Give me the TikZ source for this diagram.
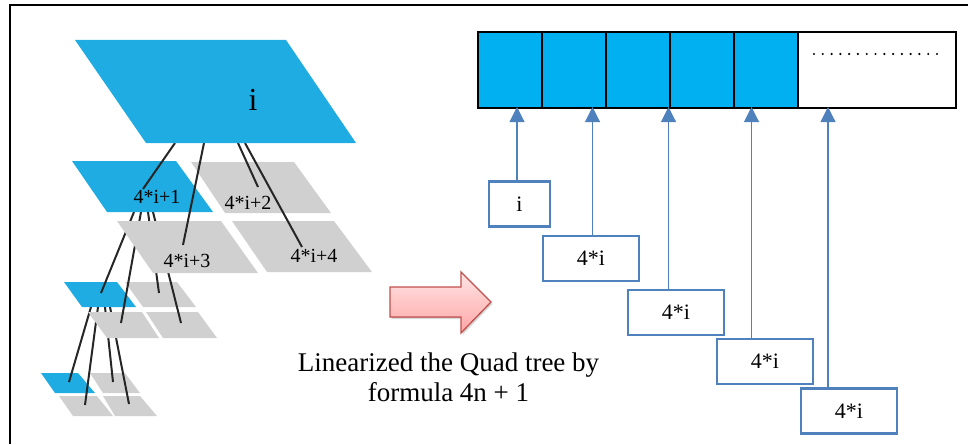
\documentclass[tikz,border=0pt]{standalone}
\usepackage{fontspec}
\setmainfont{Liberation Serif}
\usepackage{tikz}
\usetikzlibrary{arrows.meta, calc, shadows}
\usepackage{xcolor}

\definecolor{quadblue}{RGB}{30,172,226}
\definecolor{quadgray}{RGB}{208,208,208}
\definecolor{cellblue}{RGB}{0,176,240}
\definecolor{boxblue}{RGB}{79,129,189}
\definecolor{arrred}{RGB}{192,80,77}

\tikzset{
  tline/.style={line width=2pt, black!85},
  cell/.style={draw, line width=2pt, fill=cellblue, anchor=north west,
    minimum width=64pt, minimum height=76pt, inner sep=0pt},
  idxbox/.style={draw=boxblue, line width=2.4pt, fill=white, inner sep=0pt,
    minimum height=45pt, font=\fontsize{22}{26}\selectfont},
  uparr/.style={boxblue, line width=1.1pt, -{Triangle[width=15pt,length=15pt]}},
  qlabel/.style={font=\fontsize{20}{24}\selectfont},
}

\begin{document}
\begin{tikzpicture}[x=1pt, y=-1pt]
  \useasboundingbox (0,0) rectangle (968,444);
  % frame
  \draw[line width=2pt] (10,444) -- (10,5.5) -- (968,5.5);

  % quad tree, deepest level first
  \fill[quadblue] (41,373) -- (78,373) -- (95,393) -- (55,393) -- cycle;
  \fill[quadgray] (90,373) -- (125,373) -- (140,393) -- (103,393) -- cycle;
  \fill[quadgray] (59,396) -- (97,396) -- (113,416) -- (73,416) -- cycle;
  \fill[quadgray] (103,396) -- (140,396) -- (157,416) -- (115,416) -- cycle;
  \draw[tline] (91,307) -- (69,382);
  \draw[tline] (98,307) -- (85,405);
  \draw[tline] (105,307) -- (113,382);
  \draw[tline] (110,307) -- (129,404);

  \fill[quadblue] (64,282) -- (117,282) -- (136,307) -- (82,307) -- cycle;
  \fill[quadgray] (125,282) -- (177,282) -- (196,307) -- (143,307) -- cycle;
  \fill[quadgray] (88,312) -- (142,312) -- (159,338) -- (107,338) -- cycle;
  \fill[quadgray] (146,312) -- (198,312) -- (217,338) -- (163,338) -- cycle;
  \draw[tline] (134,212) -- (101,293);
  \draw[tline] (141,212) -- (121,323);
  \draw[tline] (148,212) -- (159,293);
  \draw[tline] (153,212) -- (181,323);

  \fill[quadblue] (72,161) -- (176,161) -- (213,212) -- (107,212) -- cycle;
  \fill[quadgray] (191,162) -- (294,162) -- (331,213) -- (225,213) -- cycle;
  \fill[quadgray] (117,221) -- (221,221) -- (258,273) -- (153,273) -- cycle;
  \fill[quadgray] (232,221) -- (334,221) -- (372,272) -- (267,272) -- cycle;
  \draw[tline] (175,143) -- (143,189);
  \draw[tline] (204,143) -- (183,245);
  \draw[tline] (238,143) -- (258,187);
  \draw[tline] (245,143) -- (302,247);

  \fill[quadblue] (75,40) -- (286,40) -- (356,143) -- (146,143) -- cycle;

  \node[font=\fontsize{32}{36}\selectfont] (root) at (253,100) {i};
  \node[qlabel] (q1) at (157,197) {4*i+1};
  \node[qlabel] (q2) at (248,203) {4*i+2};
  \node[qlabel] (q3) at (187,261) {4*i+3};
  \node[qlabel] (q4) at (314,256) {4*i+4};

  % arrow and caption
  \filldraw[draw=arrred, line width=1.3pt, top color=red!10, bottom color=red!35,
    drop shadow={shadow xshift=1.5pt, shadow yshift=-2pt, opacity=0.3}]
    (390,287) -- (461,287) -- (461,272) -- (491,302) -- (461,333)
    -- (461,317) -- (390,317) -- cycle;
  \node[align=center, font=\fontsize{27}{30}\selectfont] (caption) at (448.5,377)
    {Linearized the Quad tree by\\formula 4n + 1};

  % linear array
  \node[cell] (c1) at (477,31) {};
  \node[cell] (c2) at (541,31) {};
  \node[cell] (c3) at (605,31) {};
  \node[cell] (c4) at (669,31) {};
  \node[cell] (c5) at (733,31) {};
  \node[cell, fill=white, minimum width=158pt] (rest) at (797,31) {};
  \draw[line width=2.4pt, line cap=round, dash pattern=on 0pt off 8.786pt]
    (814,54) -- (937.3,54);

  % index boxes
  \node[idxbox, minimum width=61pt] (b1) at (519.5,204) {i};
  \node[idxbox, minimum width=96pt] (b2) at (591,258.5) {4*i};
  \node[idxbox, minimum width=96pt] (b3) at (676,312.5) {4*i};
  \node[idxbox, minimum width=96pt] (b4) at (765,361.5) {4*i};
  \node[idxbox, minimum width=96pt] (b5) at (849,411) {4*i};

  \coordinate (p1) at (517,107);
  \coordinate (p2) at (592.5,107);
  \coordinate (p3) at (668.5,107);
  \coordinate (p4) at (751.5,107);
  \coordinate (p5) at (828,107);
  \draw[uparr] (p1 |- b1.north) -- (p1);
  \draw[uparr] (p2 |- b2.north) -- (p2);
  \draw[uparr] (p3 |- b3.north) -- (p3);
  \draw[uparr] (p4 |- b4.north) -- (p4);
  \draw[uparr] (p5 |- b5.north) -- (p5);
\end{tikzpicture}
\end{document}
